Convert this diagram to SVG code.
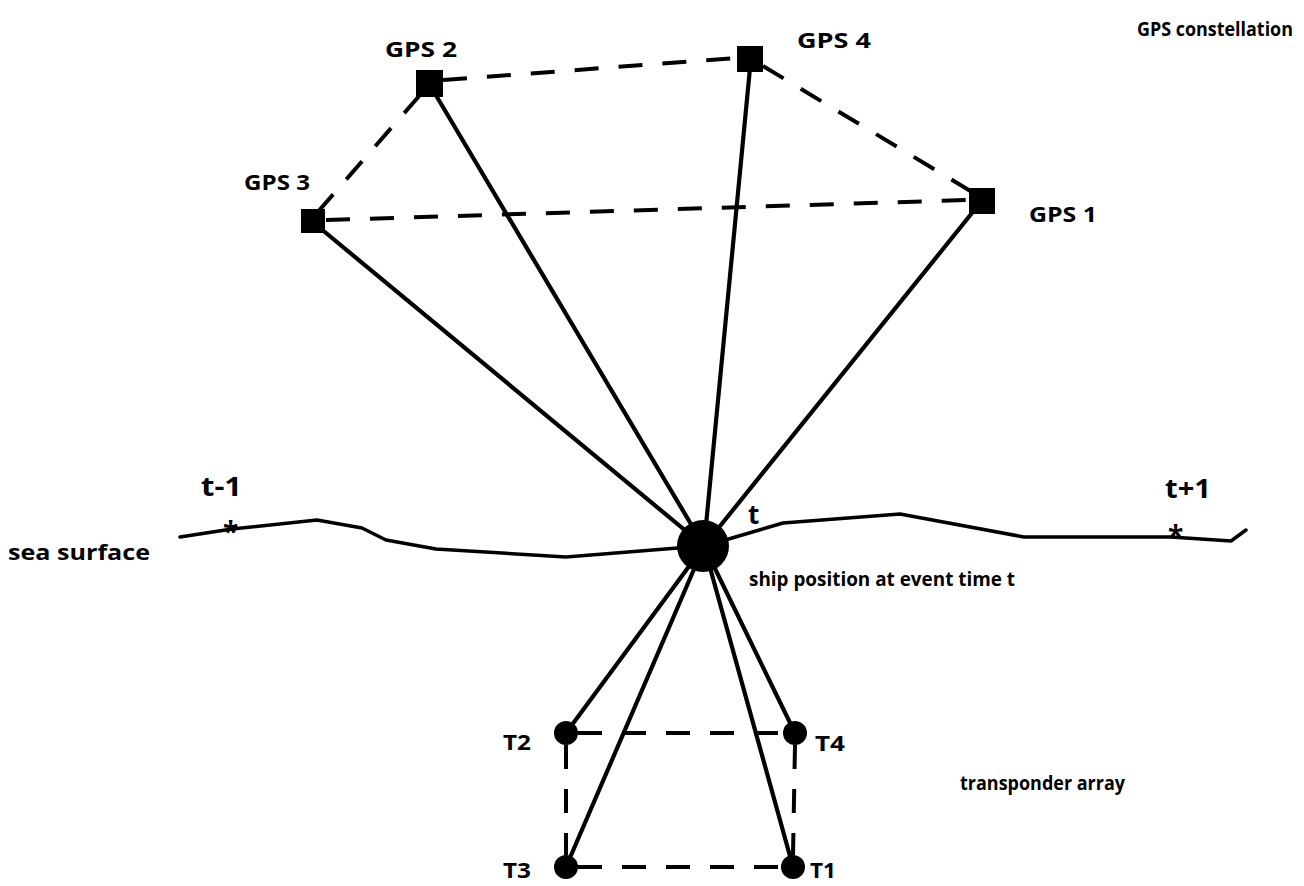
<svg xmlns="http://www.w3.org/2000/svg" width="1304" height="886" viewBox="0 0 1304 886">
  <style>
    .lbl { font-family: "Open Sans", "Liberation Sans", Arial, sans-serif; font-weight: 700; fill: #000; }
    .solid { stroke: #000; stroke-width: 4.2; fill: none; stroke-linecap: round; }
    .dash { stroke: #000; stroke-width: 4; fill: none; stroke-dasharray: 24 20; }
    .surf { stroke: #000; stroke-width: 3.5; fill: none; stroke-linejoin: round; stroke-linecap: round; }
  </style>
  <rect width="1304" height="886" fill="#fff"/>

  <!-- sea surface profile -->
  <g id="sea-surface">
    <polyline class="surf" points="180,537 232,529 317,520 362,528 386,540 436,549 566,557 690,547"/>
    <polyline class="surf" points="715,543 783,523 900,514 1024,537 1171,537 1231,541 1246,530"/>
    <text class="lbl" x="223" y="542" font-size="28">*</text>
    <text class="lbl" x="1168" y="546" font-size="28">*</text>
    <text class="lbl" x="8" y="560" font-size="21" textLength="142" lengthAdjust="spacingAndGlyphs">sea surface</text>
    <text class="lbl" x="201" y="496" font-size="26" textLength="41" lengthAdjust="spacingAndGlyphs">t-1</text>
    <text class="lbl" x="1165" y="498" font-size="26" textLength="46" lengthAdjust="spacingAndGlyphs">t+1</text>
  </g>

  <!-- connectors: ranging lines and constellation / array outlines -->
  <g id="connectors">
    <line class="dash" x1="443" y1="80" x2="737" y2="58"/>
    <line class="dash" x1="420" y1="95" x2="316" y2="214"/>
    <line class="dash" x1="326" y1="220" x2="969" y2="200"/>
    <line class="dash" x1="763" y1="66" x2="972" y2="192"/>
    <line class="solid" x1="704" y1="546" x2="320" y2="228"/>
    <line class="solid" x1="704" y1="546" x2="434" y2="92"/>
    <line class="solid" x1="704" y1="546" x2="750" y2="68"/>
    <line class="solid" x1="704" y1="546" x2="976" y2="208"/>
    <line class="solid" x1="704" y1="546" x2="566" y2="733"/>
    <line class="solid" x1="704" y1="546" x2="795" y2="733"/>
    <line class="solid" x1="704" y1="546" x2="566" y2="867"/>
    <line class="solid" x1="704" y1="546" x2="793" y2="867"/>
    <line class="dash" x1="578" y1="733" x2="783" y2="733"/>
    <line class="dash" x1="566" y1="745" x2="566" y2="855"/>
    <line class="dash" x1="578" y1="867" x2="781" y2="867"/>
    <line class="dash" x1="795" y1="745" x2="793" y2="855"/>
  </g>

  <!-- GPS satellites -->
  <g id="gps1">
    <rect x="969" y="188" width="26" height="26"/>
    <text class="lbl" x="1029" y="222" font-size="22" textLength="68" lengthAdjust="spacingAndGlyphs">GPS 1</text>
  </g>
  <g id="gps2">
    <rect x="416" y="70" width="27" height="27"/>
    <text class="lbl" x="385" y="57" font-size="22" textLength="72" lengthAdjust="spacingAndGlyphs">GPS 2</text>
  </g>
  <g id="gps3">
    <rect x="301" y="209" width="24" height="24"/>
    <text class="lbl" x="244" y="190" font-size="22" textLength="66" lengthAdjust="spacingAndGlyphs">GPS 3</text>
  </g>
  <g id="gps4">
    <rect x="737" y="46" width="26" height="26"/>
    <text class="lbl" x="797" y="48" font-size="22" textLength="74" lengthAdjust="spacingAndGlyphs">GPS 4</text>
  </g>
  <g id="constellation-label">
    <text class="lbl" x="1137" y="36" font-size="19" textLength="156" lengthAdjust="spacingAndGlyphs">GPS constellation</text>
  </g>

  <!-- ship -->
  <g id="ship">
    <circle cx="703" cy="546" r="26"/>
    <text class="lbl" x="748" y="524" font-size="26">t</text>
    <text class="lbl" x="749" y="586" font-size="20" textLength="266" lengthAdjust="spacingAndGlyphs">ship position at event time t</text>
  </g>

  <!-- transponders -->
  <g id="t2">
    <circle cx="566" cy="733" r="12"/>
    <text class="lbl" x="503" y="750" font-size="22" textLength="28" lengthAdjust="spacingAndGlyphs">T2</text>
  </g>
  <g id="t4">
    <circle cx="795" cy="733" r="12"/>
    <text class="lbl" x="815" y="751" font-size="22" textLength="30" lengthAdjust="spacingAndGlyphs">T4</text>
  </g>
  <g id="t3">
    <circle cx="566" cy="867" r="12"/>
    <text class="lbl" x="503" y="878" font-size="22" textLength="28" lengthAdjust="spacingAndGlyphs">T3</text>
  </g>
  <g id="t1">
    <circle cx="793" cy="867" r="12"/>
    <text class="lbl" x="810" y="878" font-size="22" textLength="26" lengthAdjust="spacingAndGlyphs">T1</text>
  </g>
  <g id="array-label">
    <text class="lbl" x="960" y="790" font-size="20" textLength="165" lengthAdjust="spacingAndGlyphs">transponder array</text>
  </g>
</svg>
